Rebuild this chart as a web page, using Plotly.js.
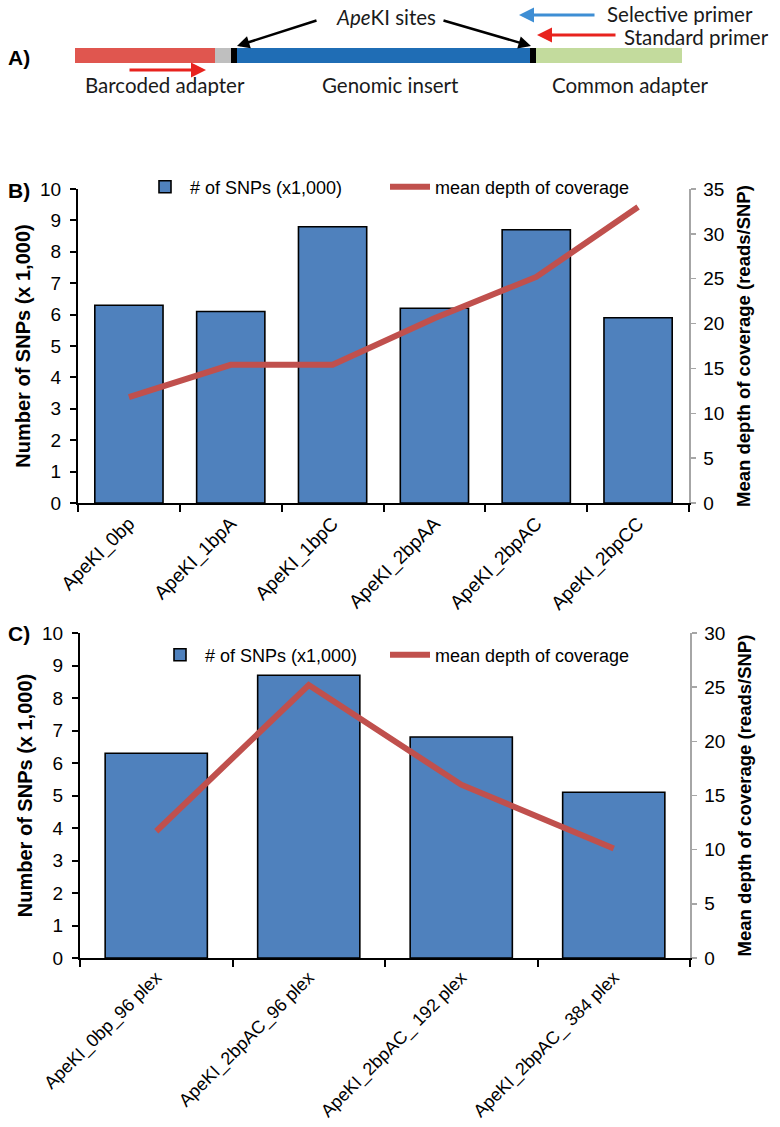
<!DOCTYPE html>
<html>
<head>
<meta charset="utf-8">
<script src="https://cdn.plot.ly/plotly-3.0.1.min.js"></script>
<style>html,body{margin:0;padding:0;background:#fff;}#chart{width:780px;height:1127px;}</style>
</head>
<body>
<div id="chart"></div>
<script>
// ---------- DATA ----------
// Panel A schematic: fragment segments (relative lengths)
const segNames = ['Barcoded adapter', 'Barcode', 'ApeKI site', 'Genomic insert', 'ApeKI site', 'Common adapter'];
const segLengths = [140, 16, 6, 293, 6, 146];

// Panel B
const catB = ['ApeKI_0bp', 'ApeKI_1bpA', 'ApeKI_1bpC', 'ApeKI_2bpAA', 'ApeKI_2bpAC', 'ApeKI_2bpCC'];
const snpB = [6.3, 6.1, 8.8, 6.2, 8.7, 5.9];
const depthB = [11.8, 15.4, 15.4, 20.6, 25.2, 33.0];

// Panel C
const catC = ['ApeKI_0bp_96 plex', 'ApeKI_2bpAC_96 plex', 'ApeKI_2bpAC_ 192 plex', 'ApeKI_2bpAC_ 384 plex'];
const snpC = [6.3, 8.7, 6.8, 5.1];
const depthC = [11.7, 25.2, 16.0, 10.1];

const seriesNames = ['# of SNPs (x1,000)', 'mean depth of coverage'];
const leftTitle = 'Number of SNPs (x 1,000)';
const rightTitle = 'Mean depth of coverage (reads/SNP)';

// ---------- STYLE / LAYOUT HELPERS ----------
const W = 780, H = 1127;
const px = v => v / W;
const py = v => 1 - v / H;
const FONT = "'Liberation Sans', Arial, sans-serif";
const AFONT = "Lato, 'Open Sans', sans-serif";
const segColors = ['#E0564F', '#BFBFBF', '#000000', '#1F6DB5', '#000000', '#C3DB9D'];
const BAR = '#4F81BD', LINE = '#C0504D';

// cumulative starts for schematic
const segStart = 75;
const segBase = segLengths.map((_, i) => segStart + segLengths.slice(0, i).reduce((a, b) => a + b, 0));

const traces = [
  {
    type: 'bar', orientation: 'h', x: segLengths, base: segBase,
    y: segNames.map(() => 55.5), width: 15,
    marker: {color: segColors, line: {width: 0}},
    xaxis: 'x3', yaxis: 'y5', showlegend: false, hoverinfo: 'skip', text: segNames, textposition: 'none'
  },
  {
    type: 'bar', x: catB, y: snpB, name: seriesNames[0], xaxis: 'x', yaxis: 'y',
    marker: {color: BAR, line: {color: '#000', width: 1.6}}, legend: 'legend'
  },
  {
    type: 'scatter', mode: 'lines', x: catB, y: depthB, name: seriesNames[1], xaxis: 'x', yaxis: 'y2',
    line: {color: LINE, width: 6}, legend: 'legend2'
  },
  {
    type: 'bar', x: catC, y: snpC, name: seriesNames[0], xaxis: 'x2', yaxis: 'y3',
    marker: {color: BAR, line: {color: '#000', width: 1.6}}, legend: 'legend3'
  },
  {
    type: 'scatter', mode: 'lines', x: catC, y: depthC, name: seriesNames[1], xaxis: 'x2', yaxis: 'y4',
    line: {color: LINE, width: 6}, legend: 'legend4'
  }
];

function xCat(domain, anchor, fs) {
  return {
    domain: domain, anchor: anchor, type: 'category',
    showline: true, linecolor: '#000', linewidth: 2,
    ticks: 'outside', tickson: 'boundaries', ticklen: 7, tickwidth: 2, tickcolor: '#000',
    tickangle: -45, tickfont: {family: FONT, size: fs, color: '#000'},
    showgrid: false, zeroline: false, fixedrange: true
  };
}
function yLeft(domain, anchor) {
  return {
    domain: domain, anchor: anchor, range: [0, 10], dtick: 1,
    showline: true, linecolor: '#000', linewidth: 2,
    ticks: 'outside', ticklen: 6, tickwidth: 2, tickcolor: '#000', ticklabelstandoff: 5,
    tickfont: {family: FONT, size: 19, color: '#000'},
    showgrid: false, zeroline: false, fixedrange: true,
    title: {text: leftTitle, font: {family: FONT, size: 20, color: '#000', weight: 'bold'}, standoff: 4}
  };
}
function yRight(overlay, anchor, max) {
  return {
    overlaying: overlay, anchor: anchor, side: 'right', range: [0, max], dtick: 5,
    showline: true, linecolor: '#A6A6A6', linewidth: 1.5,
    ticks: 'outside', ticklen: 5, tickwidth: 1.5, tickcolor: '#A6A6A6', ticklabelstandoff: 4,
    tickfont: {family: FONT, size: 19, color: '#000'},
    showgrid: false, zeroline: false, fixedrange: true,
    title: {text: rightTitle, font: {family: FONT, size: 18.5, color: '#000', weight: 'bold'}, standoff: 13}
  };
}

function legendAt(x, y) {
  return {
    x: px(x), y: py(y), xanchor: 'left', yanchor: 'middle', orientation: 'h',
    bgcolor: 'rgba(0,0,0,0)', borderwidth: 0, itemwidth: 40,
    font: {family: FONT, size: 18, color: '#000'}
  };
}

const arrow = (hx, hy, tx, ty, color, w) => ({
  x: hx, y: hy, ax: tx, ay: ty, xref: 'x3', yref: 'y5', axref: 'x3', ayref: 'y5',
  text: '', showarrow: true, arrowhead: 2, arrowsize: 1, arrowwidth: w, arrowcolor: color
});
const txtA = (x, y, text, anchor) => ({
  x: x, y: y, xref: 'x3', yref: 'y5', text: text, showarrow: false, xanchor: anchor, yanchor: 'middle',
  height: 22, font: {family: AFONT, size: 20.5, color: '#1a1a1a'}
});
const panelLabel = (x, y, t) => ({
  x: px(x), y: py(y), xref: 'paper', yref: 'paper', text: '<b>' + t + '</b>', showarrow: false,
  xanchor: 'left', yanchor: 'middle', font: {family: FONT, size: 21, color: '#000'}
});

const layout = {
  width: W, height: H, margin: {l: 0, r: 0, t: 0, b: 0},
  paper_bgcolor: '#fff', plot_bgcolor: 'rgba(0,0,0,0)',
  bargap: 0.33,
  font: {family: FONT, color: '#000'},
  xaxis: xCat([px(78), px(689)], 'y', 19),
  yaxis: yLeft([py(503), py(189)], 'x'),
  yaxis2: yRight('y', 'x', 35),
  xaxis2: xCat([px(80), px(690)], 'y3', 18),
  yaxis3: yLeft([py(958), py(633)], 'x2'),
  yaxis4: yRight('y3', 'x2', 30),
  xaxis3: {domain: [0, 1], range: [0, W], visible: false, fixedrange: true, anchor: 'y5'},
  yaxis5: {domain: [py(110), 1], range: [110, 0], visible: false, fixedrange: true, anchor: 'x3'},
  legend: legendAt(140, 187),
  legend2: legendAt(385, 187),
  legend3: legendAt(155, 655),
  legend4: legendAt(385, 655),
  annotations: [
    panelLabel(6, 58, 'A)'), panelLabel(6, 190, 'B)'), panelLabel(6, 633, 'C)'),
    txtA(386, 17, '<i>Ape</i>KI sites', 'center'),
    arrow(237, 46, 318, 20, '#000', 2.5),
    arrow(531, 46, 442, 20, '#000', 2.5),
    arrow(519, 15, 596, 15, '#3E8ED4', 3),
    arrow(537, 35, 617, 35, '#E8231E', 3),
    arrow(206, 70, 128, 70, '#E8231E', 3),
    txtA(605, 14, 'Selective primer', 'left'),
    txtA(622, 37, 'Standard primer', 'left'),
    txtA(165, 85, 'Barcoded adapter', 'center'),
    txtA(390, 85, 'Genomic insert', 'center'),
    txtA(630, 85, 'Common adapter', 'center')
  ]
};

Plotly.newPlot('chart', traces, layout, {staticPlot: true, displayModeBar: false});
</script>
</body>
</html>
